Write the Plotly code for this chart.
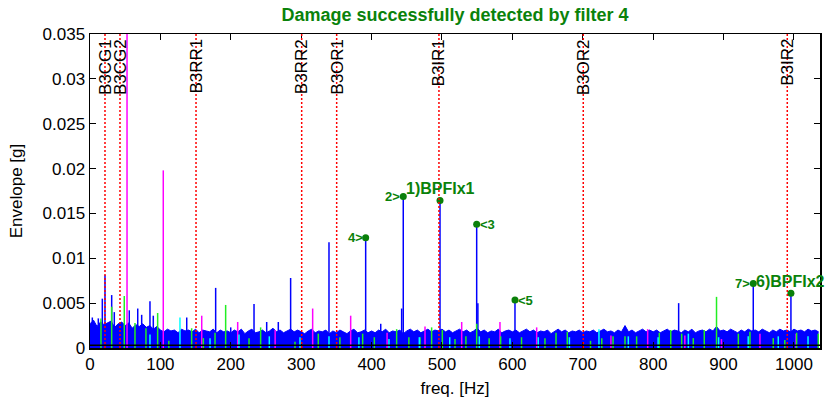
import numpy as np
import plotly.graph_objects as go

# ---------------- data ----------------
freq_step = 5.0
floor_amp = [
    0.0027, 0.0031, 0.0024, 0.0029, 0.0026, 0.0028, 0.0030, 0.0023, 0.0027, 0.0029,
    0.0025, 0.0028, 0.0022, 0.0026, 0.0024, 0.0027, 0.0023, 0.0025, 0.0021, 0.0024,
    0.0020, 0.0018, 0.0021, 0.0019, 0.0020, 0.0017, 0.0021, 0.0019, 0.0020, 0.0018,
    0.0021, 0.0017, 0.0020, 0.0019, 0.0018, 0.0021, 0.0017, 0.0020, 0.0018, 0.0019,
    0.0017, 0.0020, 0.0018, 0.0021, 0.0016, 0.0019, 0.0021, 0.0017, 0.0018, 0.0020,
    0.0017, 0.0019, 0.0022, 0.0018, 0.0020, 0.0017, 0.0019, 0.0021, 0.0018, 0.0020,
    0.0018, 0.0016, 0.0019, 0.0021, 0.0017, 0.0019, 0.0018, 0.0020, 0.0016, 0.0019,
    0.0017, 0.0020, 0.0018, 0.0016, 0.0019, 0.0021, 0.0017, 0.0018, 0.0020, 0.0017,
    0.0019, 0.0017, 0.0020, 0.0018, 0.0021, 0.0017, 0.0019, 0.0018, 0.0020, 0.0016,
    0.0019, 0.0021, 0.0018, 0.0020, 0.0017, 0.0019, 0.0021, 0.0018, 0.0020, 0.0019,
    0.0021, 0.0018, 0.0020, 0.0017, 0.0019, 0.0021, 0.0018, 0.0020, 0.0017, 0.0019,
    0.0022, 0.0018, 0.0020, 0.0017, 0.0019, 0.0018, 0.0021, 0.0017, 0.0019, 0.0020,
    0.0018, 0.0020, 0.0017, 0.0019, 0.0021, 0.0018, 0.0020, 0.0017, 0.0019, 0.0018,
    0.0020, 0.0016, 0.0019, 0.0021, 0.0018, 0.0020, 0.0017, 0.0019, 0.0018, 0.0020,
    0.0017, 0.0019, 0.0018, 0.0020, 0.0017, 0.0019, 0.0021, 0.0018, 0.0019, 0.0017,
    0.0020, 0.0018, 0.0025, 0.0018, 0.0020, 0.0017, 0.0019, 0.0021, 0.0018, 0.0020,
    0.0018, 0.0020, 0.0017, 0.0019, 0.0021, 0.0018, 0.0020, 0.0019, 0.0017, 0.0020,
    0.0018, 0.0021, 0.0017, 0.0019, 0.0020, 0.0018, 0.0021, 0.0019, 0.0024, 0.0019,
    0.0020, 0.0018, 0.0021, 0.0019, 0.0017, 0.0020, 0.0018, 0.0021, 0.0019, 0.0020,
    0.0018, 0.0021, 0.0019, 0.0017, 0.0020, 0.0018, 0.0021, 0.0019, 0.0020, 0.0018,
    0.0021, 0.0019, 0.0020, 0.0018, 0.0021, 0.0019, 0.0020, 0.0018,
]
floor_freq = list(np.arange(len(floor_amp)) * freq_step)

blue_peak_freq = [3.3, 11.8, 17.5, 21.3, 30.8, 34.5, 55.8, 67.8, 73.4, 85.2, 89.9,
                  137.4, 178.5, 199.9, 233.0, 251.0, 267.5, 285.0, 339.5, 391.6,
                  413.0, 442.7, 445.0, 497.2, 549.3, 551.0, 603.7, 760.0, 836.2,
                  942.2, 995.7]
blue_peak_amp = [0.0034, 0.0033, 0.0055, 0.0081, 0.0059, 0.0040, 0.0042, 0.0044, 0.0037,
                 0.0052, 0.0036, 0.0034, 0.0067, 0.0023, 0.0049, 0.0029, 0.0029, 0.0078,
                 0.0118, 0.0123, 0.0027, 0.0044, 0.0169, 0.0165, 0.0138, 0.0050, 0.0054,
                 0.0024, 0.0050, 0.0072, 0.0063]

magenta_freq = [52.6, 104.1, 158.7, 209.8, 263.0, 316.3, 370.3, 422.0, 475.9, 528.0,
                582.4, 634.5, 740.0, 792.2, 845.0, 897.0, 951.7, 1003.0]
magenta_amp = [0.0500, 0.0198, 0.0036, 0.0029, 0.0020, 0.0044, 0.0036, 0.0017, 0.0024,
               0.0029, 0.0029, 0.0023, 0.0014, 0.0021, 0.0014, 0.0010, 0.0016, 0.0016]

green_freq = [15.6, 30.8, 48.7, 63.9, 79.5, 96.1, 112.0, 144.4, 161.0, 177.6, 192.7,
              225.9, 242.4, 291.2, 324.3, 355.0, 387.3, 403.9, 435.6, 453.0, 468.8,
              485.3, 500.5, 518.5, 534.0, 549.3, 567.0, 583.3, 613.0, 646.3, 662.0,
              678.0, 711.0, 727.0, 743.0, 760.0, 776.5, 808.7, 825.0, 840.5, 857.0,
              872.6, 890.0, 921.0, 937.5, 970.6, 987.0, 1003.8, 1034.5]
green_amp = [0.0033, 0.0046, 0.0058, 0.0028, 0.0022, 0.0039, 0.0008, 0.0022, 0.0011,
             0.0017, 0.0048, 0.0011, 0.0023, 0.0007, 0.0016, 0.0012, 0.0016, 0.0012,
             0.0021, 0.0012, 0.0012, 0.0023, 0.0020, 0.0010, 0.0013, 0.0027, 0.0011,
             0.0013, 0.0012, 0.0011, 0.0017, 0.0018, 0.0008, 0.0011, 0.0013, 0.0013,
             0.0013, 0.0017, 0.0020, 0.0016, 0.0011, 0.0020, 0.0057, 0.0016, 0.0018,
             0.0011, 0.0009, 0.0017, 0.0016]

cyan_freq = [85.2, 127.8, 170.5, 211.6, 254.7, 298.3, 339.5, 382.0, 424.7, 467.8, 511.0,
             553.0, 596.6, 636.8, 681.0, 723.0, 764.7, 807.0, 850.0, 893.0, 935.0,
             977.7, 1020.0]
cyan_amp = [0.0015, 0.0034, 0.0011, 0.0015, 0.0013, 0.0012, 0.0013, 0.0012, 0.0010,
            0.0012, 0.0012, 0.0013, 0.0011, 0.0012, 0.0012, 0.0021, 0.0013, 0.0012,
            0.0016, 0.0012, 0.0013, 0.0013, 0.0013]

ref_level = 0.0003

fault_names = ["B3CG1", "B3CG2", "B3RR1", "B3RR2", "B3OR1", "B3IR1", "B3OR2", "B3IR2"]
fault_freq = [21.3, 42.6, 150.6, 300.7, 350.4, 495.7, 700.7, 990.5]

det_labels = ["1)BPFIx1", "2>", "<3", "4>", "<5", "6)BPFIx2", "7>"]
det_freq = [497.2, 445.0, 549.3, 391.6, 603.7, 995.7, 942.2]
det_amp = [0.01645, 0.0169, 0.0138, 0.0123, 0.00535, 0.0061, 0.0072]

x_ticks = [0, 100, 200, 300, 400, 500, 600, 700, 800, 900, 1000]
y_ticks = [0, 0.005, 0.01, 0.015, 0.02, 0.025, 0.03, 0.035]
y_ticktext = ["0", "0.005", "0.01", "0.015", "0.02", "0.025", "0.03", "0.035"]

# ---------------- figure ----------------
FONT = "Liberation Sans, Arial, sans-serif"
GREEN_TXT = "#0a820a"


def stems(fs, amps):
    xs, ys = [], []
    for f, a in zip(fs, amps):
        xs += [f, f, None]
        ys += [0, a, None]
    return xs, ys


fig = go.Figure()
fig.add_trace(go.Scatter(x=floor_freq, y=floor_amp, mode="lines",
                         line=dict(color="#0000ff", width=1),
                         fill="tozeroy", fillcolor="#0000ff", hoverinfo="skip"))
bx, by = stems(blue_peak_freq, blue_peak_amp)
fig.add_trace(go.Scatter(x=bx, y=by, mode="lines", line=dict(color="#0000ff", width=1.5)))
mx, my = stems(magenta_freq, magenta_amp)
fig.add_trace(go.Scatter(x=mx, y=my, mode="lines", line=dict(color="#ff00ff", width=1.5)))
gx, gy = stems(green_freq, green_amp)
fig.add_trace(go.Scatter(x=gx, y=gy, mode="lines", line=dict(color="#22ee22", width=1.5)))
cx, cy = stems(cyan_freq, cyan_amp)
fig.add_trace(go.Scatter(x=cx, y=cy, mode="lines", line=dict(color="#00ffff", width=1.5)))

# detection markers
fig.add_trace(go.Scatter(x=det_freq, y=det_amp, mode="markers", cliponaxis=False,
                         marker=dict(color="#0a800a", size=7)))

shapes = [dict(type="line", xref="paper", yref="y", x0=0, x1=1, y0=ref_level, y1=ref_level,
               line=dict(color="black", width=1.5), layer="above")]
for f in fault_freq:
    shapes.append(dict(type="line", xref="x", yref="paper", x0=f, x1=f, y0=0, y1=1,
                       line=dict(color="#ff0000", width=1.5, dash="2px,2px"), layer="above"))

annotations = []
for name, f in zip(fault_names, fault_freq):
    annotations.append(dict(x=f, y=1, xref="x", yref="paper", text=name, showarrow=False,
                            textangle=-90, xanchor="center", yanchor="top", yshift=-3,
                            font=dict(family=FONT, size=17, color="black")))
for lab, f, a in zip(det_labels, det_freq, det_amp):
    if lab.startswith("<"):
        d = dict(xanchor="left", yanchor="middle", xshift=1, size=13)
    elif lab.endswith(">"):
        d = dict(xanchor="right", yanchor="middle", xshift=-1, size=13)
    else:
        d = dict(xanchor="center", yanchor="bottom", yshift=1, size=16)
    annotations.append(dict(x=f, y=a, xref="x", yref="y", text="<b>%s</b>" % lab,
                            showarrow=False, xanchor=d["xanchor"], yanchor=d["yanchor"],
                            xshift=d.get("xshift", 0), yshift=d.get("yshift", 0),
                            font=dict(family=FONT, size=d["size"], color=GREEN_TXT)))

fig.update_layout(
    width=830, height=398, autosize=False,
    margin=dict(l=90, r=10, t=34, b=50),
    paper_bgcolor="white", plot_bgcolor="white",
    showlegend=False, hovermode=False,
    font=dict(family=FONT, size=17, color="black"),
    title=dict(text="<b>Damage successfully detected by filter 4</b>",
               x=0.5, xref="paper", xanchor="center", y=0.962, yanchor="middle",
               font=dict(family=FONT, size=18, color=GREEN_TXT)),
    shapes=shapes, annotations=annotations,
)
fig.update_xaxes(range=[0, 1037], tickvals=x_ticks, ticks="inside", ticklen=6,
                 tickcolor="black", showline=True, linecolor="black", linewidth=1.5,
                 mirror="allticks", showgrid=False, zeroline=False, automargin=False,
                 title=dict(text="freq. [Hz]", font=dict(size=17)),
                 tickfont=dict(size=17))
fig.update_yaxes(range=[0, 0.035], tickvals=y_ticks, ticktext=y_ticktext, ticks="inside",
                 ticklen=6, tickcolor="black", showline=True, linecolor="black",
                 linewidth=1.5, mirror="allticks", showgrid=False, zeroline=False,
                 automargin=False,
                 title=dict(text="Envelope [g]", font=dict(size=17)),
                 tickfont=dict(size=17))

fig.write_html("out.html", config={"displayModeBar": False, "staticPlot": True},
               post_script="document.body.style.margin='0';document.body.style.overflow='hidden';")
